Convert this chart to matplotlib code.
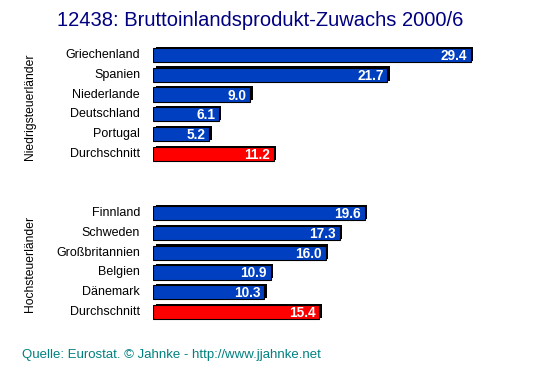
import matplotlib
matplotlib.use("Agg")
import matplotlib.pyplot as plt
from matplotlib.transforms import ScaledTranslation

plt.rcParams["font.family"] = ["Liberation Sans", "DejaVu Sans"]

TITLE = "12438: Bruttoinlandsprodukt-Zuwachs 2000/6"
SOURCE = "Quelle: Eurostat. \u00a9 Jahnke - http://www.jjahnke.net"

low_tax_labels = ["Griechenland", "Spanien", "Niederlande", "Deutschland", "Portugal", "Durchschnitt"]
low_tax_values = [29.4, 21.7, 9.0, 6.1, 5.2, 11.2]
high_tax_labels = ["Finnland", "Schweden", "Gro\u00dfbritannien", "Belgien", "D\u00e4nemark", "Durchschnitt"]
high_tax_values = [19.6, 17.3, 16.0, 10.9, 10.3, 15.4]
group_names = ["Niedrigsteuerl\u00e4nder", "Hochsteuerl\u00e4nder"]

BLUE = "#0040c0"
RED = "#ff0000"

fig = plt.figure(figsize=(5.53, 3.76), dpi=100)
ax = fig.add_axes([153 / 553, 0.1439, 378 / 553, 0.736])

groups = [(low_tax_labels, low_tax_values, 0), (high_tax_labels, high_tax_values, 8)]
shadow = ax.transData + ScaledTranslation(2.5 / 100, 1.2 / 100, fig.dpi_scale_trans)

for labels, values, start in groups:
    pos = [start + i for i in range(len(values))]
    colors = [BLUE] * (len(values) - 1) + [RED]
    ax.barh(pos, values, height=0.72, color="black", transform=shadow, zorder=1)
    ax.barh(pos, values, height=0.72, color=colors, edgecolor="black", linewidth=0.8, zorder=2)
    for p, v, lab in zip(pos, values, labels):
        ax.text(v - 0.35, p + 0.05, f"{v:.1f}", ha="right", va="center",
                color="white", fontsize=9.8, fontweight="bold", zorder=3)
        ax.text(-1.2, p, lab, ha="right", va="center", fontsize=9, color="black")

ax.set_xlim(0, 35)
ax.set_ylim(13.5, -0.5)
ax.axis("off")

fig.text(30 / 553, 1 - 107 / 376, group_names[0], rotation=90, ha="center", va="center", fontsize=8.7)
fig.text(30 / 553, 1 - 264 / 376, group_names[1], rotation=90, ha="center", va="center", fontsize=8.7)

fig.text(260 / 553, 1 - 20 / 376, TITLE, ha="center", va="center", fontsize=14.5, color="#000080")
fig.text(22 / 553, 1 - 355 / 376, SOURCE, ha="left", va="center", fontsize=9.5, color="#008080")

fig.savefig("out.png", dpi=100)
